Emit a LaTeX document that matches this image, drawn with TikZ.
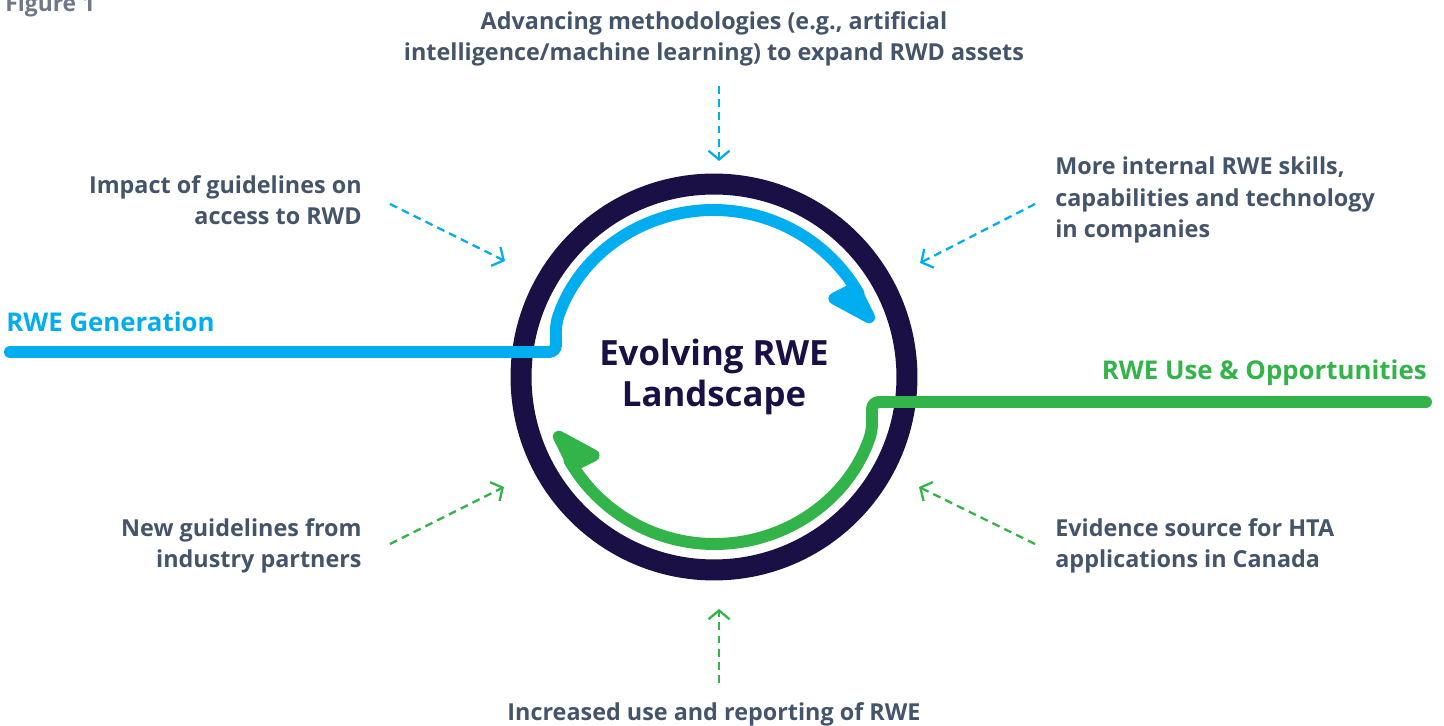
\documentclass[tikz,border=0pt]{standalone}
\usepackage{fontspec}
\setmainfont{Open Sans}
\usetikzlibrary{arrows.meta,bending}

\definecolor{rwenavy}{HTML}{1A1046}
\definecolor{rweblue}{HTML}{00AEEF}
\definecolor{rwegreen}{HTML}{33B44A}
\definecolor{labelgray}{HTML}{44546A}
\definecolor{figgray}{HTML}{6E7889}

\tikzset{
  lbl/.style={font=\bfseries\fontsize{13.3}{18}\selectfont, text=labelgray, inner sep=0},
  cue/.style={line width=1.3pt, dash pattern=on 4.5pt off 3pt, -{Straight Barb[length=5pt,width=12pt]}},
  flow/.style={line width=6.8pt, line cap=round, rounded corners=4pt, -{Triangle[harpoon,swap,round,length=28pt,width=37pt]}}
}

\begin{document}
\begin{tikzpicture}[x=0.02cm, y=0.02cm]
                \useasboundingbox (-714,-349) rectangle (730,377);
                \node[anchor=base west, text=figgray, inner sep=0, font=\bfseries\fontsize{13}{16}\selectfont] (fig) at (-709,365) {Figure 1};
                \node[circle, draw=rwenavy, line width=11.95pt, minimum size=7.72cm, inner sep=0, align=center, text=rwenavy, font=\bfseries\fontsize{19.8}{23.3}\selectfont] (hub) at (0,0) {Evolving RWE\\Landscape};
                \coordinate (gen-end) at (-704,25);
                \coordinate (use-end) at (712,-25);
                \draw[flow, rweblue] (gen-end) -- (-158,25) -- (-158,54) arc[start angle=161.1, end angle=19, radius=167];
                \draw[flow, rwegreen] (use-end) -- (158,-25) -- (158,-54) arc[start angle=-18.9, end angle=-161, radius=167];
                \node[anchor=west, inner sep=0, text=rweblue, font=\bfseries\fontsize{14.7}{18}\selectfont] (gen) at (-708,55) {RWE Generation};
                \node[anchor=east, inner sep=0, text=rwegreen, font=\bfseries\fontsize{14.7}{18}\selectfont] (use) at (713,4) {RWE Use \& Opportunities};
                \node[lbl, align=center] (methods) at (0,338) {Advancing methodologies (e.g., artificial\\intelligence/machine learning) to expand RWD assets};
                \node[lbl, align=right, anchor=east] (impact) at (-352,177) {Impact of guidelines on\\access to RWD};
                \node[lbl, align=left, anchor=west] (skills) at (341,177) {More internal RWE skills,\\capabilities and technology\\in companies};
                \node[lbl, align=right, anchor=east] (partners) at (-352,-169) {New guidelines from\\industry partners};
                \node[lbl, align=left, anchor=west] (hta) at (341,-169) {Evidence source for HTA\\applications in Canada};
                \node[lbl] (reporting) at (0,-337) {Increased use and reporting of RWE};
                \coordinate (methods-s) at (5,291);    \coordinate (methods-e) at (5,216);
                \coordinate (impact-s) at (-324,173);  \coordinate (impact-e) at (-209,116);
                \coordinate (skills-s) at (321,173);   \coordinate (skills-e) at (206,114);
                \coordinate (partners-s) at (-324,-167); \coordinate (partners-e) at (-210,-110);
                \coordinate (hta-s) at (321,-167);     \coordinate (hta-e) at (205,-110);
                \coordinate (reporting-s) at (5,-306); \coordinate (reporting-e) at (5,-232);
                \foreach \c/\col in {methods/rweblue, impact/rweblue, skills/rweblue, partners/rwegreen, hta/rwegreen, reporting/rwegreen}
                  \draw[cue, \col] (\c-s) -- (\c-e);
            \end{tikzpicture}
\end{document}
